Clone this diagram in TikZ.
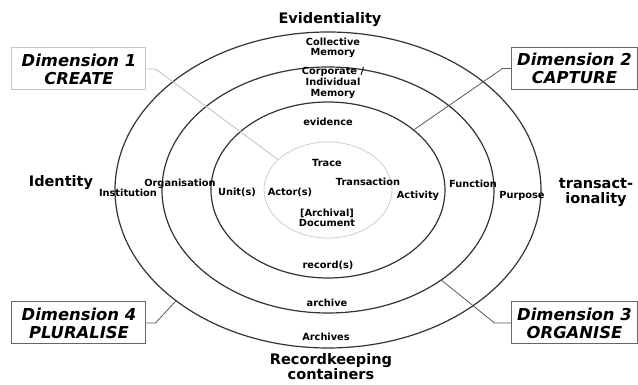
\documentclass[tikz,border=0pt]{standalone}
\usepackage{fontspec}
\setmainfont{DejaVu Sans}
\usepackage{tikz}

\begin{document}
\begin{tikzpicture}[x=1pt, y=1pt, 
    ring/.style={draw=black!80, line width=1.2pt},
    small node/.style={font=\fontsize{9.8}{10.6}\selectfont\bfseries, align=center, inner sep=0pt},
    big node/.style={font=\fontsize{14.5}{15}\selectfont\bfseries, align=center, inner sep=0pt},
    dim node/.style={draw=black!60, line width=1pt, minimum height=42pt, align=center, inner sep=0pt,
        font=\fontsize{16.4}{18}\selectfont\bfseries\itshape},
    leader/.style={draw=black!65, line width=.8pt}]
\useasboundingbox (-328,-195) rectangle (310,190);

% rings
\draw[draw=gray!40, line width=.8pt] (0,0) ellipse (64 and 48);
\draw[ring] (0,0) ellipse (117 and 88);
\draw[ring] (0,0) ellipse (166 and 123);
\draw[ring] (0,0) ellipse (213 and 158);

% axis labels
\node[big node] (evid) at (2,170) {Evidentiality};
\node[big node] (ident) at (-267,7) {Identity};
\node[big node] (trans) at (268,-2) {transact-\\ionality};
\node[big node] (rk) at (3,-177) {Recordkeeping\\containers};

% labels in the rings
\node[small node] (coll) at (5,142) {Collective\\Memory};
\node[small node] (corp) at (5,107) {Corporate /\\Individual\\Memory};
\node[small node] (evidence) at (0,68) {evidence};
\node[small node] (trace) at (-1,27) {Trace};
\node[small node] (transaction) at (40,8) {Transaction};
\node[small node] (actor) at (-38,-2) {Actor(s)};
\node[small node] (doc) at (-1,-28) {[Archival]\\Document};
\node[small node] (unit) at (-91,-2) {Unit(s)};
\node[small node] (activity) at (90,-6) {Activity};
\node[small node] (org) at (-148,6) {Organisation};
\node[small node] (inst) at (-200,-3) {Institution};
\node[small node] (func) at (145,6) {Function};
\node[small node] (purp) at (194,-6) {Purpose};
\node[small node] (rec) at (0,-75) {record(s)};
\node[small node] (arch) at (-1,-113) {archive};
\node[small node] (archs) at (-2,-147) {Archives};

% dimensions
\node[dim node, draw=gray!45, minimum width=134pt] (dim1) at (-249,121) {Dimension 1\\CREATE};
\node[dim node, minimum width=125pt] (dim2) at (246.5,121.5) {Dimension 2\\CAPTURE};
\node[dim node, minimum width=125pt] (dim3) at (246.5,-133) {Dimension 3\\ORGANISE};
\node[dim node, minimum width=134pt] (dim4) at (-249,-133) {Dimension 4\\PLURALISE};

\coordinate (e1) at (141:64 and 48);
\coordinate (e2) at (43:117 and 88);
\coordinate (e3) at (-47:166 and 123);
\coordinate (e4) at (224.5:213 and 158);

\draw[leader, draw=gray!50] (dim1.east) -- ++(9,0) -- (e1);
\draw[leader] (dim2.west) -- ++(-9,0) -- (e2);
\draw[leader] (dim3.west) -- ++(-17,0) -- (e3);
\draw[leader] (dim4.east) -- ++(9,0) -- (e4);
\end{tikzpicture}
\end{document}
